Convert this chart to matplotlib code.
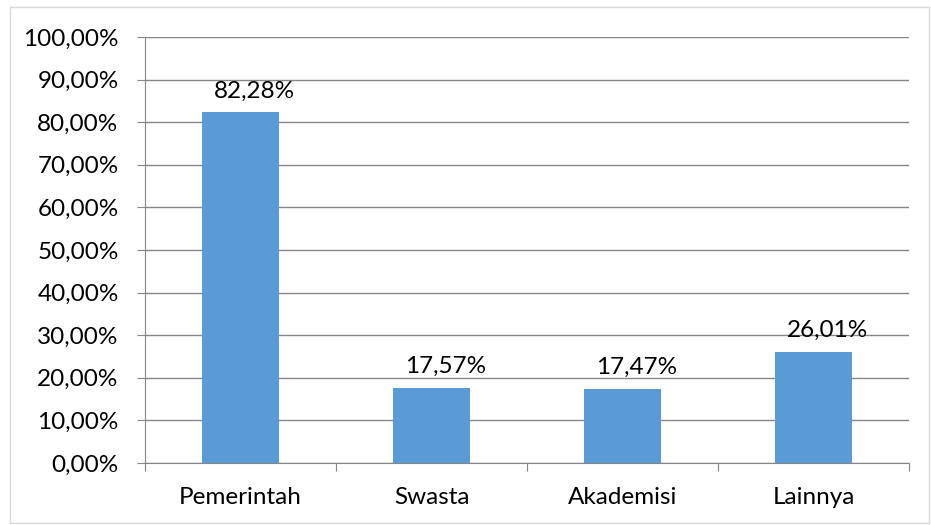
import matplotlib.pyplot as plt
from matplotlib.patches import Rectangle

# Data
categories = ["Pemerintah", "Swasta", "Akademisi", "Lainnya"]
values = [82.28, 17.57, 17.47, 26.01]
value_labels = ["82,28%", "17,57%", "17,47%", "26,01%"]
y_ticks = [0, 10, 20, 30, 40, 50, 60, 70, 80, 90, 100]
y_tick_labels = ["0,00%", "10,00%", "20,00%", "30,00%", "40,00%", "50,00%",
                 "60,00%", "70,00%", "80,00%", "90,00%", "100,00%"]

plt.rcParams['font.family'] = ['Lato', 'DejaVu Sans']
fs = 17.5

fig = plt.figure(figsize=(9.31, 5.25), dpi=100)
ax = fig.add_axes([145/931, 62/525, 764/931, 426/525])

# light border round the chart
fig.patches.append(Rectangle((10/931, 2/525), 919/931, 516/525, transform=fig.transFigure,
                             fill=False, edgecolor='#d9d9d9', linewidth=1))

x = range(len(categories))
ax.bar(x, values, width=0.4, color='#5b9bd5', zorder=3)

for i, v in enumerate(values):
    ax.annotate(value_labels[i], (i, v), xytext=(14, 11), textcoords='offset pixels',
                ha='center', va='bottom', fontsize=fs, color='black')

ax.set_xlim(-0.5, len(categories) - 0.5)
ax.set_ylim(0, 100)
ax.set_yticks(y_ticks)
ax.set_yticklabels(y_tick_labels, fontsize=fs)
ax.yaxis.grid(True, color='#868686', linewidth=1, zorder=0)

# category boundaries as major ticks, names as minor ticks
ax.set_xticks([i - 0.5 for i in range(len(categories) + 1)])
ax.set_xticklabels([])
ax.set_xticks(list(x), minor=True)
ax.set_xticklabels(categories, minor=True, fontsize=fs)
ax.tick_params(axis='x', which='major', length=6, color='#868686')
ax.tick_params(axis='x', which='minor', length=0, pad=17)
ax.tick_params(axis='y', length=6, color='#868686', pad=13)

for s in ['top', 'right']:
    ax.spines[s].set_visible(False)
for s in ['left', 'bottom']:
    ax.spines[s].set_color('#868686')

fig.savefig("out.png", dpi=100)
